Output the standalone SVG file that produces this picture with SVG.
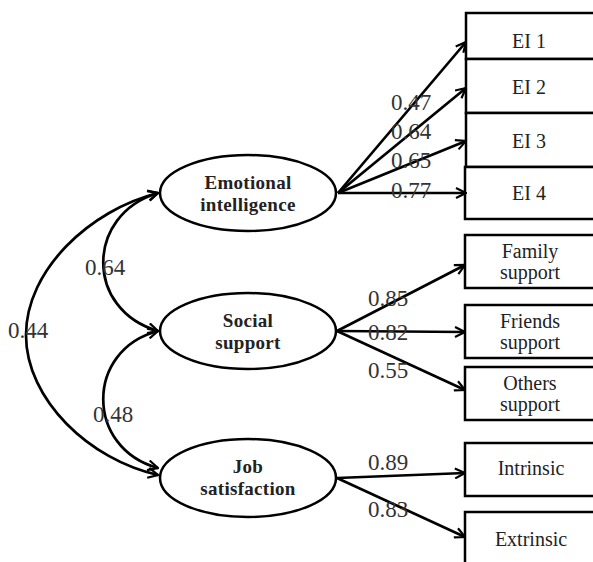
<svg xmlns="http://www.w3.org/2000/svg" width="593" height="562" viewBox="0 0 593 562">
<style>
.bg{fill:#fff}
.lat ellipse{fill:#fff;stroke:#000;stroke-width:2.5}
.lat text{font-family:"Liberation Serif",serif;font-weight:bold;font-size:19px;text-anchor:middle;fill:#222;letter-spacing:0.3px}
.obs rect{fill:#fff;stroke:#000;stroke-width:2.5}
.obs text{font-family:"Liberation Serif",serif;font-size:20px;text-anchor:middle;fill:#222}
.conn path,.conn line{fill:none;stroke:#000;stroke-width:2.7}
.num{font-family:"Liberation Serif",serif;font-size:23px;fill:#333}
</style>
<defs>
<marker id="ah" viewBox="0 0 12 12" refX="11" refY="6" markerWidth="12" markerHeight="12" markerUnits="userSpaceOnUse" orient="auto-start-reverse">
<path d="M1,1 L11,6 L1,11" fill="none" stroke="#000" stroke-width="2.2"/>
</marker>
</defs>
<rect class="bg" width="593" height="562"/>

<g id="box-ei1" class="obs"><rect x="466" y="13" width="140" height="46"/><text x="529" y="48">EI 1</text></g>
<g id="box-ei2" class="obs"><rect x="466" y="59" width="140" height="54"/><text x="529" y="94">EI 2</text></g>
<g id="box-ei3" class="obs"><rect x="466" y="113" width="140" height="54"/><text x="529" y="148">EI 3</text></g>
<g id="box-ei4" class="obs"><rect x="465" y="167" width="140" height="52"/><text x="529" y="200">EI 4</text></g>

<g id="box-family" class="obs"><rect x="465" y="235" width="140" height="53"/><text x="530" y="258">Family</text><text x="530" y="279">support</text></g>
<g id="box-friends" class="obs"><rect x="465" y="305" width="140" height="53"/><text x="530" y="328">Friends</text><text x="530" y="349">support</text></g>
<g id="box-others" class="obs"><rect x="465" y="367" width="140" height="53"/><text x="530" y="390">Others</text><text x="530" y="411">support</text></g>

<g id="box-intrinsic" class="obs"><rect x="465" y="443" width="140" height="53"/><text x="531" y="475">Intrinsic</text></g>
<g id="box-extrinsic" class="obs"><rect x="465" y="512" width="140" height="70"/><text x="531" y="546">Extrinsic</text></g>

<g id="connectors" class="conn">
<line x1="338" y1="193" x2="466" y2="42" marker-end="url(#ah)"/>
<line x1="338" y1="193" x2="466" y2="88" marker-end="url(#ah)"/>
<line x1="338" y1="193" x2="466" y2="141" marker-end="url(#ah)"/>
<line x1="338" y1="193" x2="466" y2="193" marker-end="url(#ah)"/>
<line x1="337" y1="331" x2="465" y2="265" marker-end="url(#ah)"/>
<line x1="337" y1="331" x2="465" y2="332" marker-end="url(#ah)"/>
<line x1="337" y1="331" x2="465" y2="390" marker-end="url(#ah)"/>
<line x1="337" y1="478" x2="465" y2="473" marker-end="url(#ah)"/>
<line x1="337" y1="478" x2="465" y2="537" marker-end="url(#ah)"/>
<path d="M158,193 C85,215 85,310 158,331" marker-start="url(#ah)" marker-end="url(#ah)"/>
<path d="M158,331 C85,350 85,448 158,468" marker-start="url(#ah)" marker-end="url(#ah)"/>
<path d="M158,193 C90,210 26,270 26,335 C26,400 90,460 158,475" marker-start="url(#ah)" marker-end="url(#ah)"/>
</g>

<g id="latent-ei" class="lat"><ellipse cx="248" cy="193" rx="88" ry="38"/><text x="248" y="189">Emotional</text><text x="248" y="211">intelligence</text></g>
<g id="latent-ss" class="lat"><ellipse cx="248" cy="331" rx="88" ry="38"/><text x="248" y="327">Social</text><text x="248" y="349">support</text></g>
<g id="latent-js" class="lat"><ellipse cx="248" cy="478" rx="88" ry="39"/><text x="248" y="473">Job</text><text x="248" y="495">satisfaction</text></g>

<g id="labels">
<text class="num" x="391" y="110">0.47</text>
<text class="num" x="391" y="139">0.64</text>
<text class="num" x="391" y="168">0.65</text>
<text class="num" x="391" y="198">0.77</text>
<text class="num" x="368" y="306">0.85</text>
<text class="num" x="368" y="340">0.82</text>
<text class="num" x="368" y="378">0.55</text>
<text class="num" x="368" y="470">0.89</text>
<text class="num" x="368" y="517">0.83</text>
<text class="num" x="85" y="275">0.64</text>
<text class="num" x="8" y="338">0.44</text>
<text class="num" x="93" y="422">0.48</text>
</g>
</svg>
